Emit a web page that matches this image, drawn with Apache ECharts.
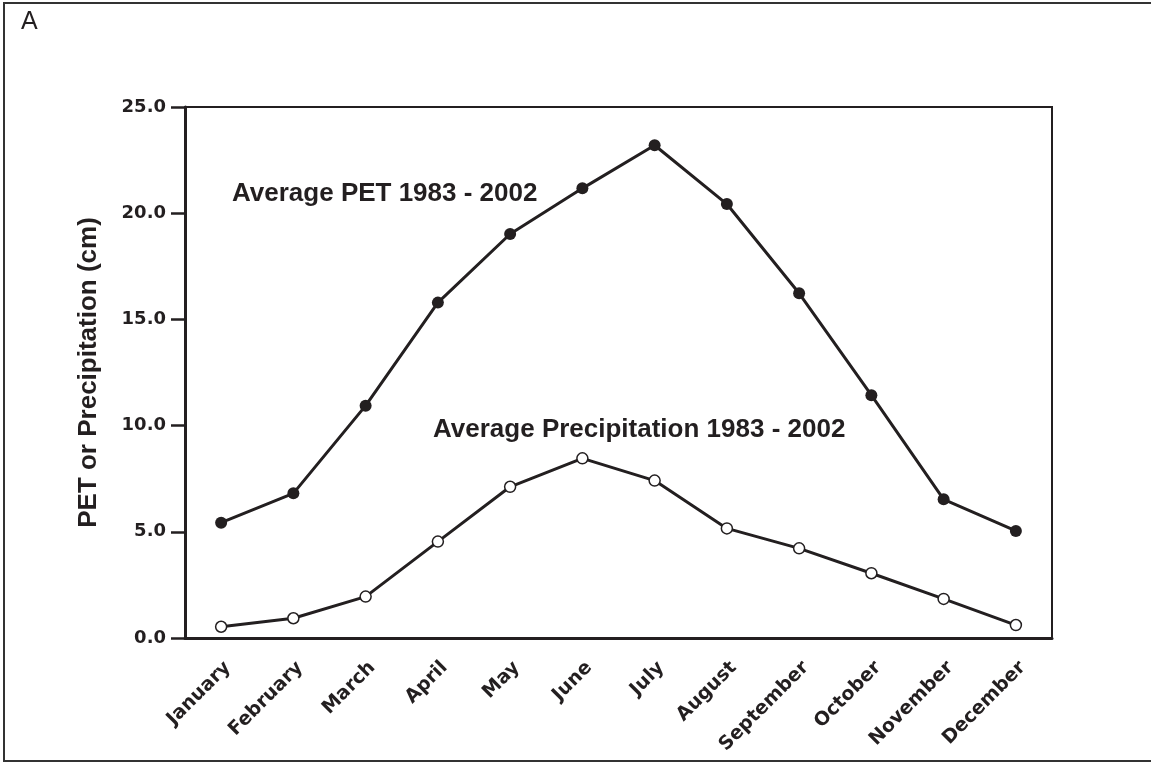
<!DOCTYPE html>
<html>
<head>
<meta charset="utf-8">
<script src="https://cdn.jsdelivr.net/npm/echarts@6/dist/echarts.min.js"></script>
<style>
  html, body { margin: 0; padding: 0; background: #fff; }
  #main { width: 1151px; height: 763px; }
</style>
</head>
<body>
<div id="main"></div>
<script>
var months = ['January', 'February', 'March', 'April', 'May', 'June',
              'July', 'August', 'September', 'October', 'November', 'December'];
var petAvg = [5.43, 6.81, 10.94, 15.79, 19.02, 21.17, 23.2, 20.43, 16.23, 11.43, 6.53, 5.04];
var precipAvg = [0.53, 0.93, 1.95, 4.54, 7.12, 8.46, 7.41, 5.16, 4.22, 3.05, 1.84, 0.61];
var yTicks = { min: 0, max: 25, step: 5 };

var ink = '#231f20';
var chart = echarts.init(document.getElementById('main'));

var option = {
  animation: false,
  backgroundColor: '#fff',
  grid: {
    left: 185, right: 99, top: 107, bottom: 125,
    show: true, borderColor: ink, borderWidth: 2
  },
  xAxis: {
    type: 'category',
    data: months,
    boundaryGap: true,
    axisLine: { lineStyle: { color: ink, width: 3 } },
    axisTick: { length: 12, lineStyle: { color: ink, width: 2.5 } },
    axisLabel: {
      interval: 0, rotate: 45, margin: 20, color: ink, verticalAlign: 'top',
      fontFamily: 'DejaVu Sans', fontWeight: 'bold', fontSize: 19
    },
    splitLine: { show: false }
  },
  yAxis: {
    type: 'value',
    min: yTicks.min, max: yTicks.max, interval: yTicks.step,
    name: 'PET or Precipitation (cm)',
    nameLocation: 'middle',
    nameGap: 83,
    nameTextStyle: { color: ink, fontFamily: 'Liberation Sans', fontWeight: 'bold', fontSize: 26 },
    axisLine: { show: true, lineStyle: { color: ink, width: 3 } },
    axisTick: { show: true, length: 14, lineStyle: { color: ink, width: 2.5 } },
    axisLabel: {
      margin: 19, color: ink,
      fontFamily: 'DejaVu Sans', fontWeight: 'bold', fontSize: 18,
      formatter: function (v) { return v.toFixed(1); }
    },
    splitLine: { show: false }
  },
  series: [
    {
      name: 'Average PET 1983 - 2002',
      type: 'line',
      data: petAvg,
      symbol: 'circle',
      symbolSize: 12,
      itemStyle: { color: ink },
      lineStyle: { color: ink, width: 3 }
    },
    {
      name: 'Average Precipitation 1983 - 2002',
      type: 'line',
      data: precipAvg,
      symbol: 'circle',
      symbolSize: 11,
      itemStyle: { color: '#fff', borderColor: ink, borderWidth: 1.5 },
      lineStyle: { color: ink, width: 3 }
    }
  ],
  graphic: [
    {
      type: 'rect',
      shape: { x: 4, y: 3, width: 1160, height: 758 },
      style: { fill: 'none', stroke: '#333', lineWidth: 2 },
      silent: true
    },
    {
      type: 'text', left: 21, top: 10,
      style: { text: 'A', fill: ink, font: '25px "Liberation Sans"' }
    },
    {
      type: 'text', x: 232, y: 194,
      style: {
        text: 'Average PET 1983 - 2002', fill: ink,
        font: 'bold 26px "Liberation Sans"', verticalAlign: 'middle'
      }
    },
    {
      type: 'text', x: 433, y: 430,
      style: {
        text: 'Average Precipitation 1983 - 2002', fill: ink,
        font: 'bold 26px "Liberation Sans"', verticalAlign: 'middle'
      }
    }
  ]
};

chart.setOption(option);
</script>
</body>
</html>
